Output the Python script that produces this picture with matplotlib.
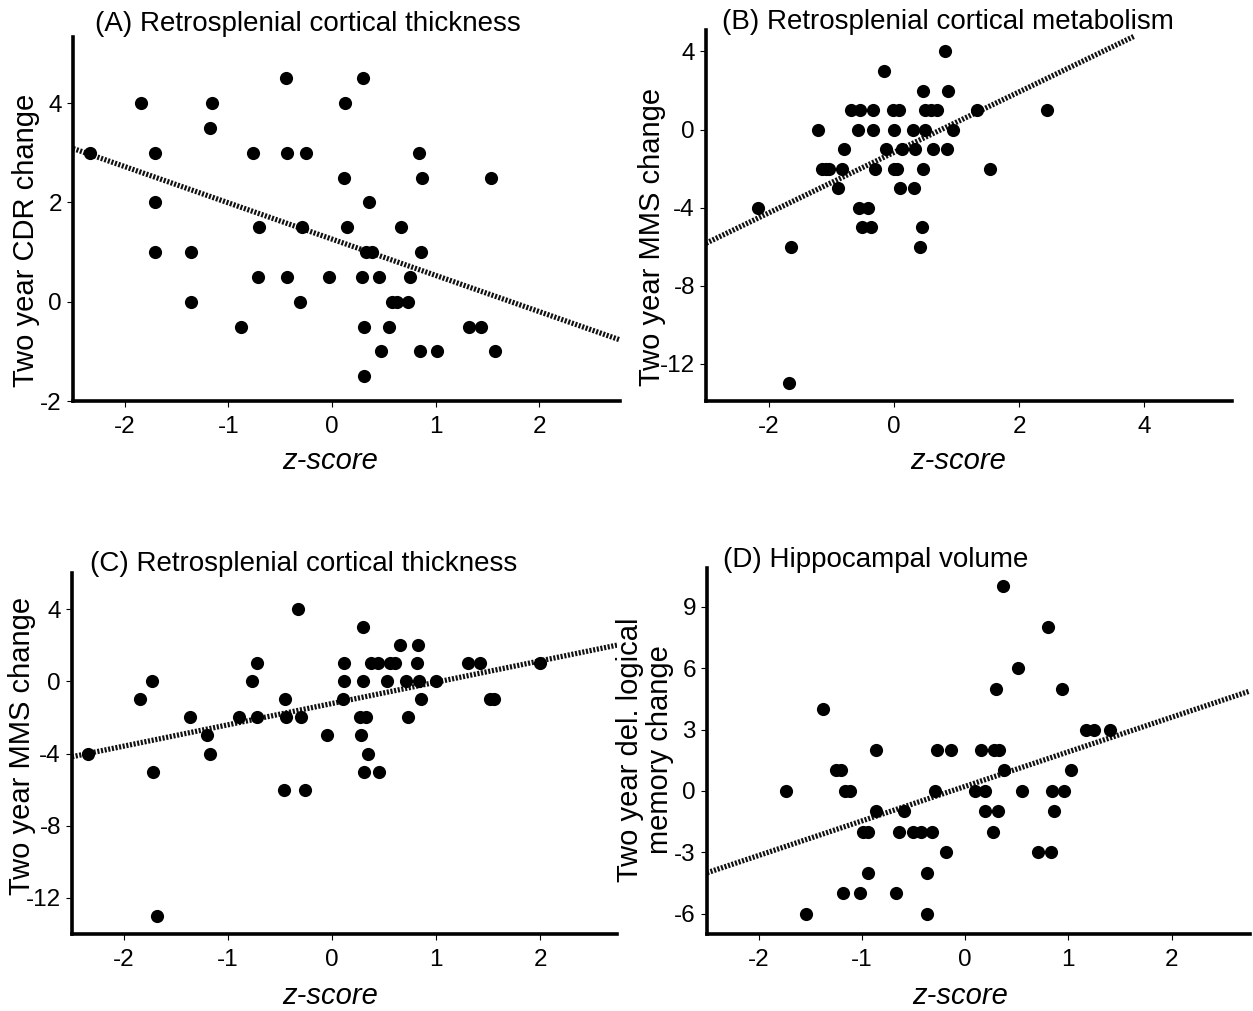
import numpy as np
import matplotlib
matplotlib.use("Agg")
import matplotlib.pyplot as plt

# Panel A: retrosplenial cortical thickness vs two year CDR change
a_z = [-2.34, -1.84, -1.16, -1.18, -1.71, -1.71, -1.71, -1.36, -1.36, -0.875,
       -0.76, -0.70, -0.71, -0.445, -0.43, -0.25, -0.29, -0.43, -0.31, -0.03,
       0.30, 0.13, 0.12, 0.14, 0.36, 0.33, 0.39, 0.285, 0.45, 0.31,
       0.31, 0.47, 0.55, 0.58, 0.625, 0.73, 0.67, 0.75, 0.84, 0.87,
       0.86, 0.85, 1.01, 1.32, 1.44, 1.53, 1.57]
a_chg = [3, 4, 4, 3.5, 3, 2, 1, 1, 0, -0.5,
         3, 1.5, 0.5, 4.5, 3, 3, 1.5, 0.5, 0, 0.5,
         4.5, 4, 2.5, 1.5, 2, 1, 1, 0.5, 0.5, -0.5,
         -1.5, -1, -0.5, 0, 0, 0, 1.5, 0.5, 3, 2.5,
         1, -1, -1, -0.5, -0.5, 2.5, -1]

# Panel B: retrosplenial cortical metabolism vs two year MMS change
b_z = [-2.17, -1.65, -1.67, -1.21, -1.14, -1.08, -1.03, -0.89, -0.83, -0.79,
       -0.68, -0.54, -0.58, -0.56, -0.42, -0.51, -0.37, -0.34, -0.34, -0.30,
       -0.16, -0.12, -0.01, 0.08, 0.01, 0.0, 0.05, 0.10, 0.13, 0.31,
       0.33, 0.32, 0.46, 0.49, 0.49, 0.46, 0.45, 0.41, 0.62, 0.60,
       0.69, 0.81, 0.86, 0.85, 0.94, 1.33, 1.54, 2.45]
b_chg = [-4, -6, -13, 0, -2, -2, -2, -3, -2, -1,
         1, 1, 0, -4, -4, -5, -5, 1, 0, -2,
         3, -1, 1, 1, 0, -2, -2, -3, -1, 0,
         -1, -3, 2, 1, 0, -2, -5, -6, -1, 1,
         1, 4, 2, -1, 0, 1, -2, 1]

# Panel C: retrosplenial cortical thickness vs two year MMS change
c_z = [-2.35, -1.85, -1.73, -1.72, -1.68, -1.37, -1.20, -1.17, -0.89, -0.77,
       -0.72, -0.72, -0.45, -0.44, -0.46, -0.33, -0.30, -0.26, -0.05, 0.11,
       0.12, 0.12, 0.30, 0.30, 0.27, 0.33, 0.28, 0.35, 0.31, 0.45,
       0.375, 0.44, 0.53, 0.56, 0.61, 0.65, 0.71, 0.73, 0.83, 0.82,
       0.84, 0.855, 1.0, 1.31, 1.42, 1.52, 1.56, 2.0]
c_chg = [-4, -1, 0, -5, -13, -2, -3, -4, -2, 0,
         1, -2, -1, -2, -6, 4, -2, -6, -3, -1,
         0, 1, 3, 0, -2, -2, -3, -4, -5, -5,
         1, 1, 0, 1, 1, 2, 0, -2, 2, 1,
         0, -1, 0, 1, 1, -1, -1, 1]

# Panel D: hippocampal volume vs two year delayed logical memory change
d_z = [-1.73, -1.54, -1.38, -1.25, -1.20, -1.18, -1.16, -1.11, -1.02, -0.99,
       -0.94, -0.94, -0.86, -0.86, -0.67, -0.64, -0.59, -0.50, -0.43, -0.37,
       -0.37, -0.32, -0.29, -0.27, -0.185, -0.14, 0.10, 0.15, 0.19, 0.19,
       0.27, 0.28, 0.33, 0.30, 0.32, 0.37, 0.38, 0.51, 0.55, 0.71,
       0.80, 0.83, 0.84, 0.86, 0.94, 0.96, 1.03, 1.17, 1.245, 1.40]
d_chg = [0, -6, 4, 1, 1, -5, 0, 0, -5, -2,
         -2, -4, 2, -1, -5, -2, -1, -2, -2, -4,
         -6, -2, 0, 2, -3, 2, 0, 2, 0, -1,
         -2, 2, 2, 5, -1, 10, 1, 6, 0, -3,
         8, -3, 0, -1, 5, 0, 1, 3, 3, 3]

# fitted regression lines: (intercept, slope, x start, x end)
a_fit = (1.26, -0.73, -2.5, 2.78)
b_fit = (-1.17, 1.55, -3.0, 3.84)
c_fit = (-1.23, 1.18, -2.5, 2.74)
d_fit = (0.22, 1.69, -2.5, 2.76)

titles = ["(A) Retrosplenial cortical thickness",
          "(B) Retrosplenial cortical metabolism",
          "(C) Retrosplenial cortical thickness",
          "(D) Hippocampal volume"]
ylabels = ["Two year CDR change", "Two year MMS change",
           "Two year MMS change", "Two year del. logical\nmemory change"]

plt.rcParams['font.family'] = ['Liberation Sans', 'DejaVu Sans']
plt.rcParams['axes.unicode_minus'] = False

W, H = 1253, 1011
fig = plt.figure(figsize=(W / 100, H / 100), dpi=100)


def fx(px):
    return px / W


def fy(py):
    return 1 - py / H


panels = [
    # axes box px, xlim, ylim, xticks, yticks, title pos, ylabel pos, xlabel pos
    ((73, 37, 620, 401), (-2.5, 2.78), (-2.0, 5.33), [-2, -1, 0, 1, 2], [-2, 0, 2, 4],
     (95, 31), (26, 240), (330, 461)),
    ((706, 30, 1232, 401), (-3.0, 5.4), (-13.9, 5.1), [-2, 0, 2, 4], [-12, -8, -4, 0, 4],
     (722, 29), (652, 237), (958, 461)),
    ((72, 573, 617, 934), (-2.5, 2.74), (-14.0, 6.0), [-2, -1, 0, 1, 2], [-12, -8, -4, 0, 4],
     (90, 571), (22, 746), (330, 996)),
    ((707, 568, 1250, 934), (-2.5, 2.76), (-7.0, 10.9), [-2, -1, 0, 1, 2], [-6, -3, 0, 3, 6, 9],
     (723, 567), (645, 750), (960, 996)),
]
series = [(a_z, a_chg, a_fit), (b_z, b_chg, b_fit), (c_z, c_chg, c_fit), (d_z, d_chg, d_fit)]

for i, (box, xl, yl, xt, yt, tpos, ylpos, xlpos) in enumerate(panels):
    xs, ys, fit = series[i]
    left, top, right, bottom = box
    ax = fig.add_axes([fx(left), fy(bottom), (right - left) / W, (bottom - top) / H])
    ax.scatter(xs, ys, s=90, color='black', zorder=3, linewidths=0)
    b0, b1, x0, x1 = fit
    lx = np.array([x0, x1])
    ax.plot(lx, b0 + b1 * lx, color='#111111', lw=3.8,
            linestyle=(0, (0.4, 0.3)), zorder=2)
    ax.set_xlim(*xl)
    ax.set_ylim(*yl)
    ax.set_xticks(xt)
    ax.set_yticks(yt)
    for s in ['top', 'right']:
        ax.spines[s].set_visible(False)
    for s in ['left', 'bottom']:
        ax.spines[s].set_linewidth(2.6)
    ax.tick_params(direction='out', length=4, width=0.8)
    ax.tick_params(axis='x', pad=7)
    ax.tick_params(axis='y', pad=4)
    for lab in ax.get_xticklabels() + ax.get_yticklabels():
        lab.set_family(['Liberation Sans Narrow', 'Liberation Sans'])
        lab.set_fontsize(17.5)
    fig.text(fx(ylpos[0]), fy(ylpos[1]), ylabels[i], fontsize=21, rotation=90,
             ha='center', va='center', multialignment='center', linespacing=1.05)
    fig.text(fx(xlpos[0]), fy(xlpos[1]), 'z-score', fontsize=21, style='italic',
             ha='center', va='center')
    fig.text(fx(tpos[0]), fy(tpos[1]), titles[i], fontsize=20,
             ha='left', va='baseline')

fig.savefig('out.png', dpi=100, facecolor='white')
